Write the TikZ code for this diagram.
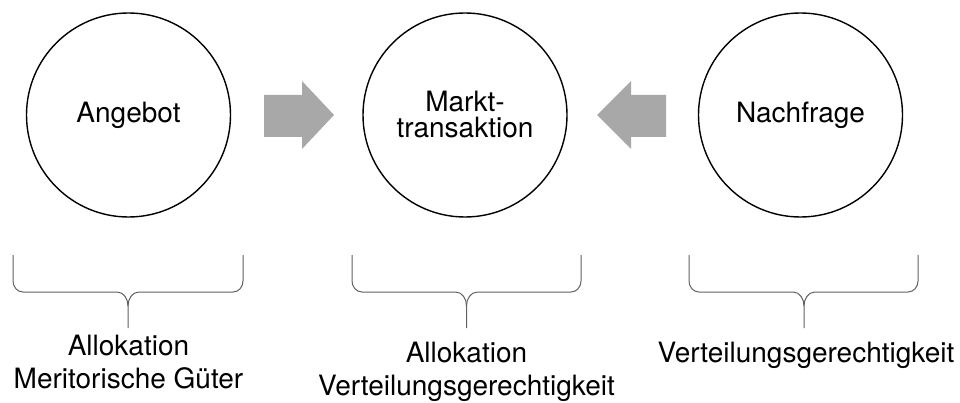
\documentclass[tikz,border=0pt]{standalone}
\usepackage{fontspec}
\setmainfont{TeX Gyre Heros}
\begin{document}
\begin{tikzpicture}[x=1pt,y=-1pt,
  bubble/.style={circle,draw=black,line width=1.4pt,minimum size=204pt,inner sep=0pt,
    font=\fontsize{28}{27}\selectfont,align=center},
  bigarrow/.style={fill=black!34,draw=none},
  bracepath/.style={draw=black!62,line width=1pt},
  lbl/.style={font=\fontsize{28}{32.5}\selectfont,align=center,anchor=base,inner sep=0pt}]
\useasboundingbox (0,0) rectangle (960,403);
% circles
\node[bubble] (ang) at (128.5,115) {Angebot};
\node[bubble] (mkt) at (465,115) {Markt-\\[-1pt]transaktion};
\node[bubble] (nach) at (800.5,115) {Nachfrage};
% arrows
\fill[bigarrow] (264,95) -- (302,95) -- (302,81) -- (334,115) -- (302,149) -- (302,137) -- (264,137) -- cycle;
\fill[bigarrow] (666,95) -- (631,95) -- (631,81) -- (597,115) -- (631,149) -- (631,137) -- (666,137) -- cycle;
% braces
\foreach \l/\m/\r/\n in {13/128/243/b1, 352/466.5/581/b2, 689/804/918/b3}{
  \coordinate (\n tip) at (\m,328);
  \draw[bracepath] (\l,255) -- (\l,281) to[out=-90,in=180] (\l+10,292) -- (\m-11,292)
    to[out=0,in=90] (\m,306) -- (\n tip);
  \draw[bracepath] (\r,255) -- (\r,281) to[out=-90,in=0] (\r-10,292) -- (\m+11,292)
    to[out=180,in=90] (\m,306);
}
% labels (base anchor = baseline of the last line)
\node[lbl] (l1) at (128.5,388) {Allokation\\Meritorische Güter};
\node[lbl] (l2) at (466.5,395) {Allokation\\Verteilungsgerechtigkeit};
\node[lbl] (l3) at (806,362) {Verteilungsgerechtigkeit};
\end{tikzpicture}
\end{document}
